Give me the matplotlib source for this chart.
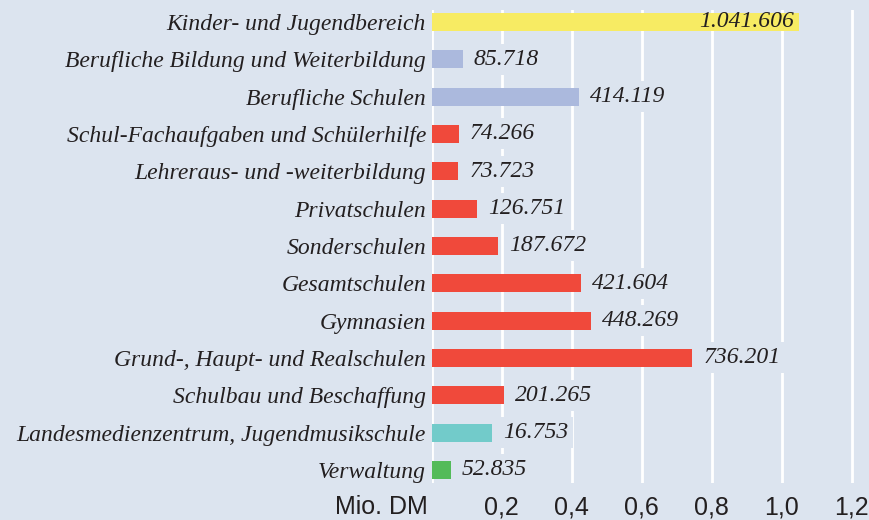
import numpy as np
import matplotlib.pyplot as plt
from matplotlib.transforms import blended_transform_factory

# categories, top to bottom
categories = ['Kinder- und Jugendbereich',
              'Berufliche Bildung und Weiterbildung',
              'Berufliche Schulen',
              'Schul-Fachaufgaben und Schülerhilfe',
              'Lehreraus- und -weiterbildung',
              'Privatschulen',
              'Sonderschulen',
              'Gesamtschulen',
              'Gymnasien',
              'Grund-, Haupt- und Realschulen',
              'Schulbau und Beschaffung',
              'Landesmedienzentrum, Jugendmusikschule',
              'Verwaltung']
# bar lengths in Mio. DM as drawn in the picture
bar_mio = [1.050, 0.089, 0.421, 0.078, 0.076, 0.130, 0.190,
           0.427, 0.456, 0.744, 0.207, 0.172, 0.055]
# printed values (Tsd. DM)
value_labels = ['1.041.606', '85.718', '414.119', '74.266', '73.723', '126.751',
                '187.672', '421.604', '448.269', '736.201', '201.265', '16.753', '52.835']
groups = ['kj', 'bb', 'bb', 'sch', 'sch', 'sch', 'sch', 'sch', 'sch', 'sch', 'sch', 'lm', 'vw']
group_colors = {'kj': '#f7eb63', 'bb': '#abb9dd', 'sch': '#f0493b',
                'lm': '#72cbca', 'vw': '#53bb59'}
xticks = [0.2, 0.4, 0.6, 0.8, 1.0, 1.2]
xtick_labels = ['0,2', '0,4', '0,6', '0,8', '1,0', '1,2']

bg = '#dce4ef'
serif = 'Liberation Serif'
sans = 'Liberation Sans'
txt = '#231f20'

fig = plt.figure(figsize=(8.7, 5.2), dpi=100, facecolor=bg)
ax = fig.add_axes([0.4962, 0.0712, 0.5029, 0.9096], facecolor=bg)

ypos = np.arange(len(categories))
colors = [group_colors[g] for g in groups]
ax.barh(ypos, bar_mio, height=0.48, color=colors, zorder=3)

ax.set_xlim(0, 1.25)
ax.set_ylim(12.35, -0.32)

for x in [0] + xticks:
    ax.axvline(x, color='white', lw=2, zorder=1)

for i, (v, lab) in enumerate(zip(bar_mio, value_labels)):
    if i == 0:
        ax.annotate(lab, (v, i), xytext=(-4, 0), textcoords='offset points',
                    ha='right', va='center', fontsize=17, style='italic',
                    family=serif, color=txt, zorder=4)
    else:
        ax.annotate(lab, (v, i), xytext=(8, 0), textcoords='offset points',
                    ha='left', va='center', fontsize=17, style='italic',
                    family=serif, color=txt, zorder=4,
                    bbox=dict(facecolor=bg, edgecolor='none', pad=3.5))

ax.set_yticks(ypos)
ax.set_yticklabels(categories, fontsize=17, style='italic', family=serif, color=txt)
ax.tick_params(axis='y', length=0, pad=4)
ax.set_xticks(xticks)
ax.set_xticklabels(xtick_labels, fontsize=18, family=sans, color=txt)
ax.tick_params(axis='x', length=0, pad=9)

trans = blended_transform_factory(ax.transData, ax.transAxes)
ax.annotate('Mio. DM', (0, 0), xycoords=trans, xytext=(-3, -9), textcoords='offset points',
            ha='right', va='top', fontsize=18, family=sans, color=txt)

for s in ax.spines.values():
    s.set_visible(False)

fig.savefig('out.png', dpi=100, facecolor=bg)
